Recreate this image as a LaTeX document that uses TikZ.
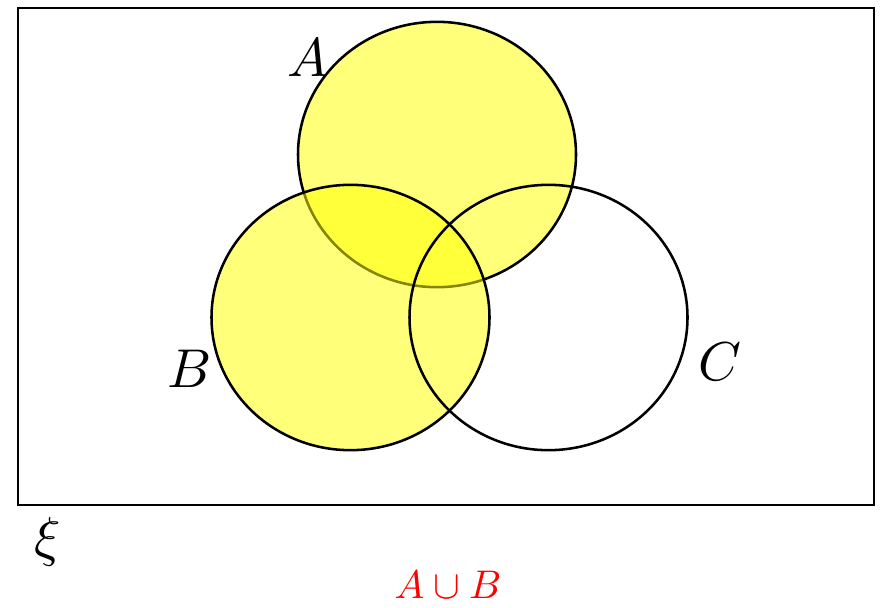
\documentclass[tikz,border=0pt]{standalone}
\usepackage{tikz}
\usepackage{graphicx}
\usepackage{xcolor}
\usetikzlibrary{positioning,shapes.geometric}
\definecolor{setfill}{HTML}{FFFF00}
\definecolor{unioncol}{HTML}{FF0000}
\newcommand{\setname}[1]{\scalebox{4.1}{$#1$}}
\newcommand{\capname}[1]{\scalebox{3.0}{$#1$}}

\begin{document}
\begin{tikzpicture}[
  x=0.75pt, y=-0.75pt,
  setbox/.style={
    ellipse, draw=black, line width=1.9pt, inner sep=0pt,
    minimum width=208.5pt, minimum height=199pt,
  },
  shaded/.style={setbox, fill=setfill, fill opacity=0.52},
  setlabel/.style={inner sep=0pt},
  caption/.style={text=unioncol, inner sep=0pt},
]
\useasboundingbox (0,0) rectangle (881,607);

% =================== universe ===================
\node[draw=black, line width=1.5pt, minimum width=642pt, minimum height=372.75pt,
  inner sep=0pt, anchor=north west] (U) at (17,7) {};

% =================== sets ===================
\node[shaded] (A) at (437,154.5) {};
\node[shaded] (B) at (350.5,317.5) {};
\node[setbox] (C) at (548.5,317.5) {};

% Labels
\node[setlabel] (lA) at (308,58) {\setname{A}};
\node[setlabel] (lB) at (190,369) {\setname{B}};
\node[setlabel] (lC) at (720,362) {\setname{C}};
\node[setlabel] (lxi) at (48,542) {\setname{\xi}};

% Caption
\node[caption] (cap) at (448,585) {\capname{A\cup B}};

\end{tikzpicture}
\end{document}
